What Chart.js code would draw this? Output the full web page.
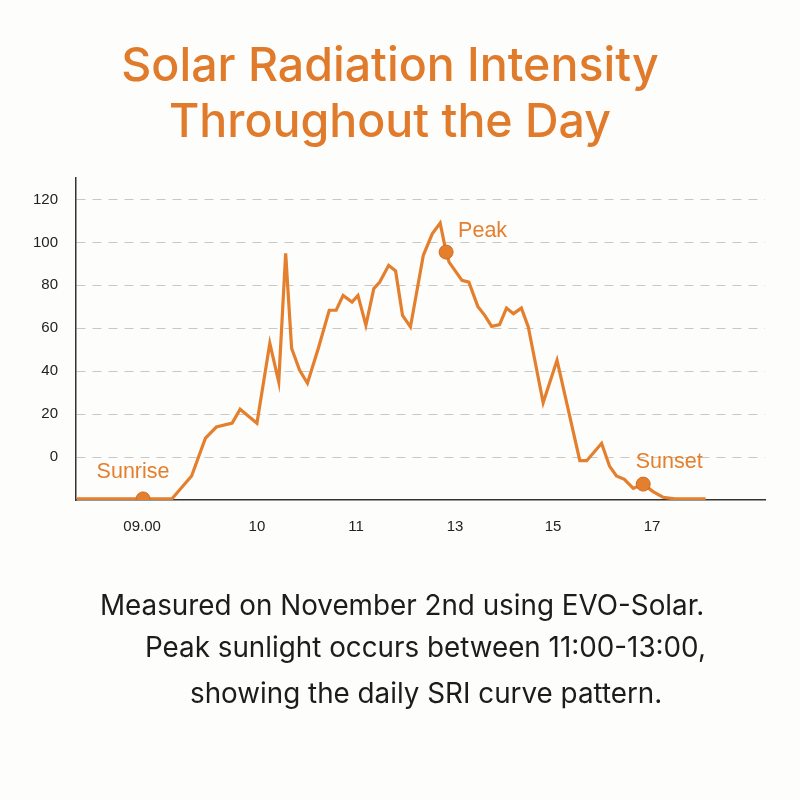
<!DOCTYPE html>
<html>
<head>
<meta charset="utf-8">
<script src="https://cdn.jsdelivr.net/npm/chart.js@4"></script>
<style>
  body { margin:0; background:#fdfdfb; }
  #wrap { position:relative; width:800px; height:800px; }
  canvas { position:absolute; left:0; top:0; }
  .titre { position:absolute; left:0; width:780px; text-align:center; color:#e07b2c;
           font-family:Inter, "Liberation Sans", sans-serif; font-weight:500; font-size:46.5px; line-height:46px; }
  .legende { position:absolute; color:#1c1c1c; font-family:Inter, "Liberation Sans", sans-serif;
             font-size:27.8px; line-height:28px; white-space:nowrap; }
</style>
</head>
<body>
<div id="wrap">
  <canvas id="graph" width="800" height="800"></canvas>
  <div class="titre" style="top:41px">Solar Radiation Intensity</div>
  <div class="titre" style="top:97px">Throughout the Day</div>
  <div class="legende" style="left:100px;top:591px">Measured on November 2nd using EVO-Solar.</div>
  <div class="legende" style="left:145px;top:633px">Peak sunlight occurs between 11:00-13:00,</div>
  <div class="legende" style="left:190px;top:679px">showing the daily SRI curve pattern.</div>
</div>
<script>
// position sur l'axe (unites du graphique d'origine) et intensite
var heures = [8.34, 9.30, 9.50, 9.64, 9.75, 9.91, 9.99, 10.16, 10.29, 10.38, 10.45, 10.51, 10.59, 10.67,
	10.78, 10.89, 10.96, 11.03, 11.12, 11.18, 11.26, 11.34, 11.40, 11.49, 11.56, 11.63, 11.71, 11.84,
	11.93, 12.01, 12.07, 12.10, 12.23, 12.30, 12.39, 12.46, 12.53, 12.61, 12.68, 12.75, 12.83, 12.90,
	13.05, 13.19, 13.42, 13.49, 13.64, 13.72, 13.79, 13.87, 13.96, 14.06, 14.16, 14.26, 14.38, 14.69];
var intensite = [-19.5, -19.5, -8.8, 8.8, 14.0, 15.8, 22.3, 15.8, 53.0, 35.0, 94.9, 50.7, 40.5, 34.4,
	50.7, 68.4, 68.4, 75.3, 72.2, 75.3, 61.4, 78.5, 81.5, 89.3, 86.7, 66.0, 60.6, 94.0,
	104.0, 109.0, 95.5, 90.8, 82.3, 81.5, 70.2, 66.0, 60.9, 61.7, 69.4, 66.8, 69.4, 60.6,
	25.3, 45.1, -1.7, -1.7, 6.4, -4.2, -8.8, -10.4, -14.6, -12.6, -16.1, -18.7, -19.5, -19.5];

var reperes = ["Sunrise", "Peak", "Sunset"];
var reperesX = [9.01, 12.07, 14.06];
var reperesY = [-19.5, 95.5, -12.6];

var positionsX = [9.0, 10.16, 11.16, 12.16, 13.15, 14.15];
var etiquettesX = ["09.00", "10", "11", "13", "15", "17"];
var etiquettesY = [0, 20, 40, 60, 80, 100, 120];

var orange = '#e47f2e';

var points = heures.map(function(h, i){ return {x: h, y: intensite[i]}; });
var marques = reperesX.map(function(h, i){ return {x: h, y: reperesY[i]}; });

// decalage des textes par rapport aux marqueurs
var decalages = [{dx:-10, dy:-27, align:'center'}, {dx:12, dy:-21, align:'left'}, {dx:26, dy:-22, align:'center'}];

var textesReperes = {
	id: 'textesReperes',
	afterDatasetsDraw: function(chart){
		var ctx = chart.ctx;
		var sx = chart.scales.x, sy = chart.scales.y;
		ctx.save();
		ctx.fillStyle = orange;
		ctx.font = '21.5px "Liberation Sans", Arial, sans-serif';
		ctx.textBaseline = 'middle';
		reperes.forEach(function(t, i){
			ctx.textAlign = decalages[i].align;
			ctx.fillText(t, sx.getPixelForValue(reperesX[i]) + decalages[i].dx, sy.getPixelForValue(reperesY[i]) + decalages[i].dy);
		});
		ctx.restore();
	}
};

var ctx = document.getElementById("graph").getContext("2d");
window.monGraph = new Chart(ctx, {
	type: 'line',
	data: {
		datasets: [{
			data: marques,
			showLine: false,
			pointRadius: 7,
			pointBackgroundColor: orange,
			pointBorderColor: '#d06a1e',
			pointBorderWidth: 1
		}, {
			data: points,
			borderColor: orange,
			borderWidth: 3.2,
			pointRadius: 0,
			tension: 0,
			fill: false
		}]
	},
	options: {
		responsive: false,
		animation: false,
		layout: { padding: { left: 0, top: 178, right: 35, bottom: 260 } },
		plugins: { legend: { display: false }, tooltip: { enabled: false } },
		scales: {
			x: {
				type: 'linear',
				min: 8.333, max: 15.29,
				afterBuildTicks: function(s){ s.ticks = positionsX.map(function(v){ return {value: v}; }); },
				afterFit: function(s){ s.height = 40; },
				ticks: {
					padding: 10,
					color: '#222',
					font: { size: 15, family: '"Liberation Sans", Arial, sans-serif' },
					callback: function(v, i){ return etiquettesX[i]; }
				},
				grid: { display: false },
				border: { display: true, color: '#333', width: 1.5 }
			},
			y: {
				min: -20, max: 130,
				afterBuildTicks: function(s){ s.ticks = etiquettesY.map(function(v){ return {value: v}; }); },
				afterFit: function(s){ s.width = 76; },
				ticks: {
					padding: 18,
					color: '#222',
					font: { size: 15, family: '"Liberation Sans", Arial, sans-serif' }
				},
				grid: { color: '#c8c8c8', lineWidth: 1, drawTicks: false },
				border: { display: true, color: '#333', width: 1.5, dash: [9, 7] }
			}
		}
	},
	plugins: [textesReperes]
});
</script>
</body>
</html>
